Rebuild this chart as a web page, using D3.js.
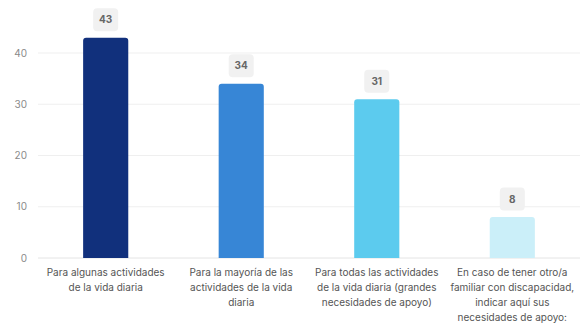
<!DOCTYPE html>
<html>
<head>
<meta charset="utf-8">
<script src="https://cdn.jsdelivr.net/npm/d3@7"></script>
<style>
  html, body { margin: 0; padding: 0; background: #ffffff; }
  svg { display: block; font-family: Inter, "Noto Sans", sans-serif; }
</style>
</head>
<body>
<svg id="chart" width="580" height="327"></svg>
<script>
// Support needs per category
const categories = [
  ["Para algunas actividades", "de la vida diaria"],
  ["Para la mayoría de las", "actividades de la vida", "diaria"],
  ["Para todas las actividades", "de la vida diaria (grandes", "necesidades de apoyo)"],
  ["En caso de tener otro/a", "familiar con discapacidad,", "indicar aquí sus", "necesidades de apoyo:"]
];
const values = [43, 34, 31, 8];
const barColors = ["#11307c", "#3786d6", "#5ccbee", "#cbeff9"];
const yTicks = [0, 10, 20, 30, 40];

const svg = d3.select("#chart");
const margin = { left: 38, right: 0 };
const width = 580;

const x = d3.scaleBand()
  .domain(d3.range(values.length))
  .range([margin.left, width - margin.right])
  .paddingInner(0.667)
  .paddingOuter(0.333);

const y = d3.scaleLinear().domain([0, 40]).range([258, 53]);

// Horizontal gridlines
svg.append("g").selectAll("line")
  .data(yTicks)
  .join("line")
  .attr("x1", margin.left)
  .attr("x2", width)
  .attr("y1", d => y(d))
  .attr("y2", d => y(d))
  .attr("stroke", d => d === 0 ? "#e4e4e4" : "#efefef")
  .attr("stroke-width", 1);

// Y tick labels
svg.append("g").selectAll("text")
  .data(yTicks)
  .join("text")
  .attr("x", 27)
  .attr("y", d => y(d))
  .attr("dy", "0.35em")
  .attr("text-anchor", "end")
  .attr("font-size", 10)
  .attr("fill", "#8a8a8a")
  .text(d => d);

// Bars with slightly rounded tops
const r = 3;
svg.append("g").selectAll("path")
  .data(values)
  .join("path")
  .attr("fill", (d, i) => barColors[i])
  .attr("d", (d, i) => {
    const x0 = x(i), w = x.bandwidth(), top = y(d), bottom = y(0);
    return `M${x0},${bottom}V${top + r}Q${x0},${top} ${x0 + r},${top}` +
           `H${x0 + w - r}Q${x0 + w},${top} ${x0 + w},${top + r}V${bottom}Z`;
  });

// Value badges above bars
const badge = svg.append("g").selectAll("g")
  .data(values)
  .join("g")
  .attr("transform", (d, i) => `translate(${x(i) + x.bandwidth() / 2},${y(d) - 18})`);

badge.append("rect")
  .attr("x", -12.5)
  .attr("y", -11.5)
  .attr("width", 25)
  .attr("height", 23)
  .attr("rx", 4)
  .attr("fill", "#f1f1f1");

badge.append("text")
  .attr("text-anchor", "middle")
  .attr("dy", "0.35em")
  .attr("font-size", 10)
  .attr("font-weight", 700)
  .attr("fill", "#666666")
  .text(d => d);

// Category labels
const labels = svg.append("g").selectAll("text")
  .data(categories)
  .join("text")
  .attr("x", (d, i) => x(i) + x.bandwidth() / 2)
  .attr("y", 276)
  .attr("text-anchor", "middle")
  .attr("font-size", 10)
  .attr("fill", "#555555");

labels.selectAll("tspan")
  .data(d => d)
  .join("tspan")
  .attr("x", function () { return d3.select(this.parentNode).attr("x"); })
  .attr("dy", (d, i) => i === 0 ? 0 : 15)
  .text(d => d);
</script>
</body>
</html>
